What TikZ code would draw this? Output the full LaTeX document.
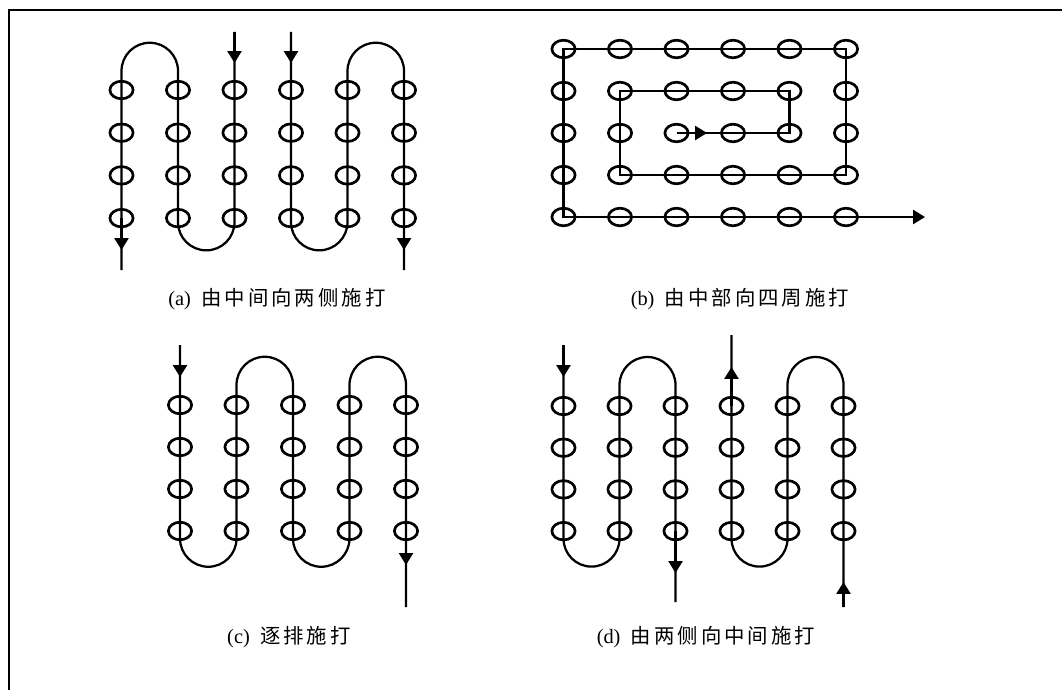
\documentclass[tikz,border=0pt]{standalone}
\usepackage{fontspec}
\setmainfont{Liberation Serif}
\newfontfamily\cjk[LetterSpace=15]{Noto Sans CJK SC}
\usetikzlibrary{arrows.meta,shapes.geometric}

\begin{document}
\begin{tikzpicture}[x=0.025cm,y=-0.025cm,
  hole/.style={draw,ellipse,line width=1.9pt,inner sep=0pt,minimum width=16.5pt,minimum height=12.5pt},
  route/.style={line width=1.6pt},
  flowtip/.style={route,-{Triangle[width=10pt,length=8.5pt]}},
  caption/.style={font=\fontsize{14.5pt}{17pt}\selectfont}]
\useasboundingbox (0,0) rectangle (1062,689);
\draw[line width=1.5pt] (9,700) -- (9,10) -- (1070,10);

\foreach \i in {1,...,6} \foreach \j in {1,...,4}
  \node[hole] (a-\i-\j) at ({121.5+56.5*(\i-1)},{90+42.7*(\j-1)}) {};
\coordinate (a3in) at (234.5,32);
\coordinate (a3tip) at (234.5,63);
\coordinate (a4in) at (291,32);
\coordinate (a4tip) at (291,63);
\coordinate (a1out) at (121.5,270);
\coordinate (a1tip) at (121.5,250);
\coordinate (a6out) at (404,270);
\coordinate (a6tip) at (404,250);
\draw[route] (a3in) -- (a-3-4.center) -- ++(0,4) arc[start angle=0,end angle=180,radius=28.25]
  -- (a-2-1.center) -- ++(0,-19) arc[start angle=0,end angle=-180,radius=28.25] -- (a1out);
\draw[route] (a4in) -- (a-4-4.center) -- ++(0,4) arc[start angle=180,end angle=0,radius=28.25]
  -- (a-5-1.center) -- ++(0,-19) arc[start angle=180,end angle=360,radius=28.25] -- (a6out);
\draw[flowtip] (a3in) -- (a3tip);
\draw[flowtip] (a4in) -- (a4tip);
\draw[flowtip] (a-1-4.center) -- (a1tip);
\draw[flowtip] (a-6-4.center) -- (a6tip);

\foreach \i in {1,...,6} \foreach \j in {1,...,5}
  \node[hole] (b-\i-\j) at ({563.5+56.5*(\i-1)},{49+42*(\j-1)}) {};
\coordinate (bout) at (925,217);
\coordinate (btip) at (707,133);
\draw[flowtip] (b-3-3.center) -- (b-5-3.center) -- (b-5-2.center) -- (b-2-2.center) -- (b-2-4.center)
  -- (b-6-4.center) -- (b-6-1.center) -- (b-1-1.center) -- (b-1-5.center) -- (bout);
\draw[flowtip] (b-3-3.center) -- (btip);

\foreach \i in {1,...,5} \foreach \j in {1,...,4}
  \node[hole] (c-\i-\j) at ({180+56.5*(\i-1)},{405+42*(\j-1)}) {};
\coordinate (cin) at (180,345);
\coordinate (ctip) at (180,377);
\coordinate (cout) at (406,607);
\coordinate (ctip2) at (406,565);
\draw[route] (cin) -- (c-1-4.center) -- ++(0,7.5) arc[start angle=180,end angle=0,radius=28.25]
  -- (c-2-1.center) -- ++(0,-20) arc[start angle=180,end angle=360,radius=28.25]
  -- (c-3-4.center) -- ++(0,7.5) arc[start angle=180,end angle=0,radius=28.25]
  -- (c-4-1.center) -- ++(0,-20) arc[start angle=180,end angle=360,radius=28.25] -- (cout);
\draw[flowtip] (cin) -- (ctip);
\draw[flowtip] (c-5-4.center) -- (ctip2);

\foreach \i in {1,...,6} \foreach \j in {1,...,4}
  \node[hole] (d-\i-\j) at ({563.5+56*(\i-1)},{406+41.7*(\j-1)}) {};
\coordinate (din) at (563.5,345);
\coordinate (dtip) at (563.5,377);
\coordinate (dout) at (675.5,602);
\coordinate (dtip2) at (675.5,573);
\coordinate (dup) at (731.5,335);
\coordinate (duptip) at (731.5,367);
\coordinate (dstart) at (843.5,607);
\coordinate (dstarttip) at (843.5,582);
\draw[route] (din) -- (d-1-4.center) -- ++(0,7.5) arc[start angle=180,end angle=0,radius=28]
  -- (d-2-1.center) -- ++(0,-21) arc[start angle=180,end angle=360,radius=28] -- (dout);
\draw[route] (dstart) -- (d-6-1.center) -- ++(0,-21) arc[start angle=0,end angle=-180,radius=28]
  -- (d-5-4.center) -- ++(0,7.5) arc[start angle=0,end angle=180,radius=28] -- (dup);
\draw[flowtip] (din) -- (dtip);
\draw[flowtip] (d-3-4.center) -- (dtip2);
\draw[flowtip] (dstart) -- (dstarttip);
\draw[flowtip] (d-4-1.center) -- (duptip);

\node[caption] (capa) at (277,299) {(a)\ \ {\cjk 由中间向两侧施打}};
\node[caption] (capb) at (740,299) {(b)\ \ {\cjk 由中部向四周施打}};
\node[caption] (capc) at (289,637) {(c)\ \ {\cjk 逐排施打}};
\node[caption] (capd) at (706,637) {(d)\ \ {\cjk 由两侧向中间施打}};
\end{tikzpicture}
\end{document}
